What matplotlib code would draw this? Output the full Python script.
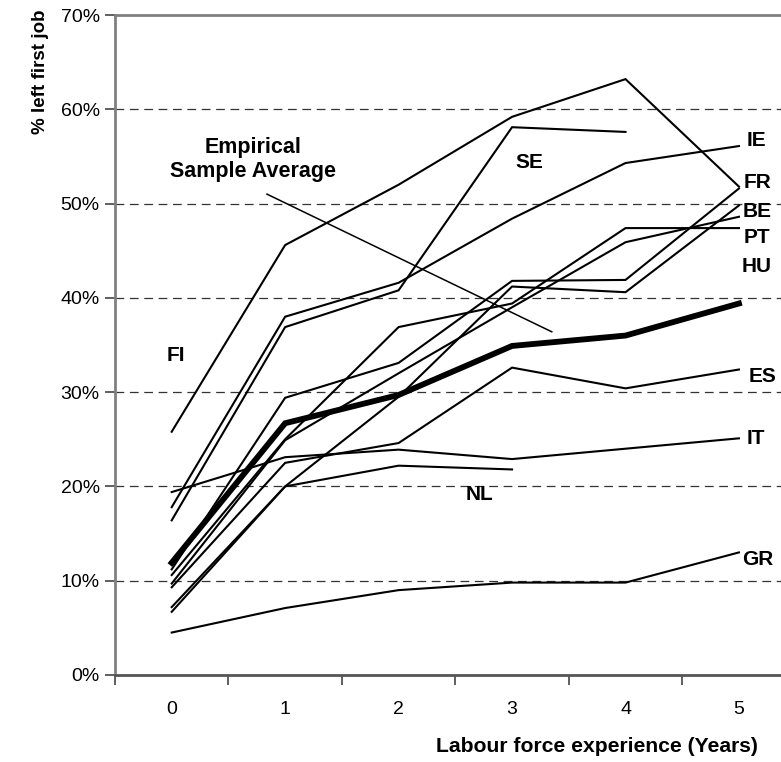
import numpy as np
import matplotlib.pyplot as plt

plt.rcParams['font.family'] = ['Liberation Sans', 'DejaVu Sans']

years = [0, 1, 2, 3, 4, 5]
nan = np.nan

# % left first job by years of labour force experience
fi = [25.8, 45.6, 52.0, 59.2, 63.2, 51.8]
se = [16.4, 36.9, 40.8, 58.1, 57.6, nan]
ie = [17.8, 38.0, 41.6, 48.4, 54.3, 56.1]
fr = [11.2, 29.4, 33.1, 41.8, 41.9, 51.6]
hu = [6.7, 20.0, 29.5, 41.2, 40.6, 49.8]
pt = [10.6, 25.0, 36.9, 39.4, 47.4, 47.4]
be = [9.7, 24.9, 32.0, 39.0, 45.9, 48.6]
es = [9.3, 22.5, 24.6, 32.6, 30.4, 32.4]
it = [19.4, 23.1, 23.9, 22.9, 24.0, 25.1]
nl = [7.2, 20.0, 22.2, 21.8, nan, nan]
gr = [4.5, 7.1, 9.0, 9.8, 9.8, 13.0]
average = [11.9, 26.7, 29.7, 34.9, 36.0, 39.4]

countries = [fi, se, ie, fr, hu, pt, be, es, it, nl, gr]

# country labels: (text, x in years, y in %)
labels = [("FI", 0.04, 33.9), ("SE", 3.15, 54.4), ("IE", 5.15, 56.7),
          ("FR", 5.16, 52.2), ("BE", 5.16, 49.2), ("PT", 5.16, 46.4),
          ("HU", 5.16, 43.3), ("ES", 5.21, 31.7), ("IT", 5.15, 25.1),
          ("NL", 2.71, 19.1), ("GR", 5.17, 12.3)]

fig = plt.figure(figsize=(7.81, 7.62), dpi=100)
ax = fig.add_axes([0.1472, 0.1142, 0.8716, 0.8661])

for s in countries:
    ax.plot(years, s, color='black', lw=1.5, solid_joinstyle='miter')
ax.plot(years, average, color='black', lw=4.2, solid_joinstyle='miter')

for txt, x, y in labels:
    ax.text(x, y, txt, fontsize=15, fontweight='bold', ha='center', va='center')

ax.text(0.72, 54.7, "Empirical\nSample Average", fontsize=15.5, fontweight='bold',
        ha='center', va='center', linespacing=1.22)
ax.plot([0.84, 3.35], [51.0, 36.4], color='black', lw=1.1)

ax.set_xlim(-0.5, 5.5)
ax.set_ylim(0, 70)
ax.set_yticks(np.arange(0, 71, 10))
ax.set_yticklabels([f"{v}%" for v in range(0, 71, 10)])
for v in range(10, 70, 10):
    ax.axhline(v, color='#333333', lw=0.9, ls=(0, (7, 4.5)), zorder=0)

ax.set_xticks(years)
ax.set_xticks(np.arange(-0.5, 5.6, 1), minor=True)
ax.tick_params(axis='x', which='major', length=0, pad=19, labelsize=14)
ax.tick_params(axis='x', which='minor', length=7, width=1.2, color='#444444')
ax.tick_params(axis='y', length=7, width=1.2, color='#444444', pad=4, labelsize=14)

for side in ['left', 'top', 'right']:
    ax.spines[side].set_color('#808080')
    ax.spines[side].set_linewidth(2)
ax.spines['bottom'].set_color('#555555')
ax.spines['bottom'].set_linewidth(2)

fig.text(0.052, 0.988, "% left first job", rotation=90, fontsize=13.5,
         fontweight='bold', ha='center', va='top')
fig.text(0.764, 0.0197, "Labour force experience (Years)", fontsize=15.2,
         fontweight='bold', ha='center', va='center')

fig.savefig("out.png", dpi=100)
